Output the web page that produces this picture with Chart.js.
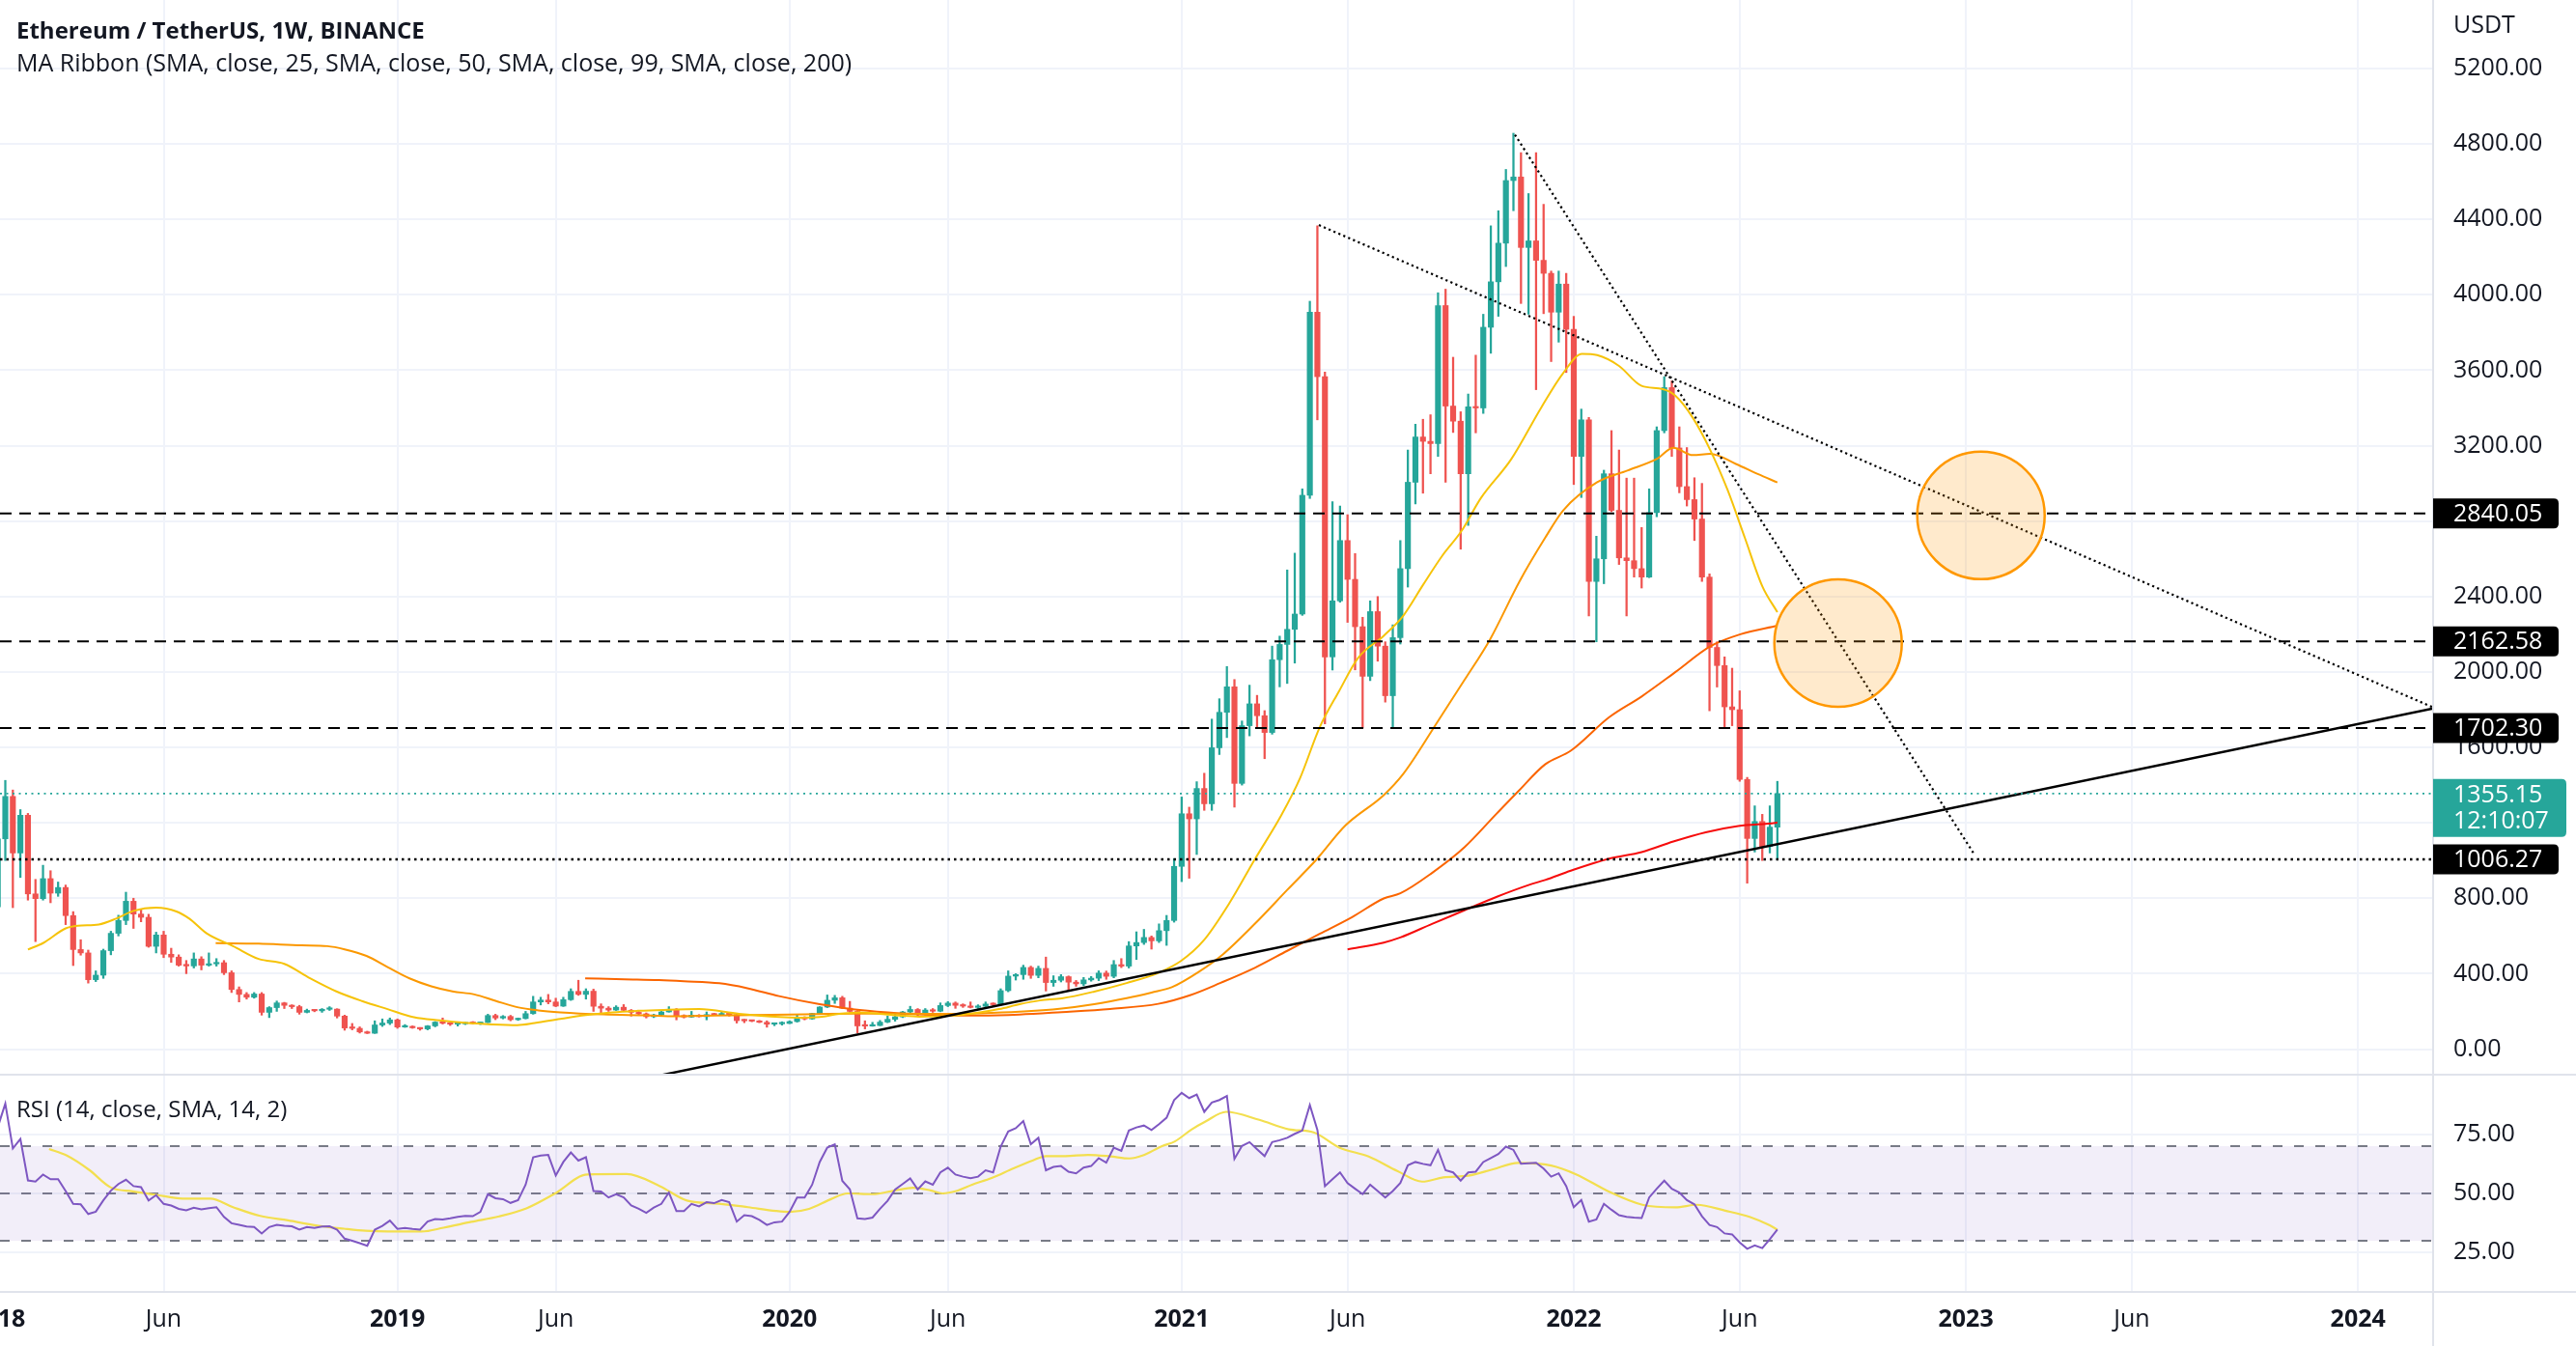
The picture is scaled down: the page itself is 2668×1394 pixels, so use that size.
<!DOCTYPE html>
<html><head><meta charset="utf-8">
<script src="https://cdn.jsdelivr.net/npm/chart.js@4.4.1/dist/chart.umd.min.js"></script>
<style>
html,body{margin:0;padding:0;background:#fff;width:2668px;height:1394px;overflow:hidden}
canvas{position:absolute;left:0}
#main{top:0}
#rsi{top:1114px}
</style></head><body>
<canvas id="main" width="2668" height="1114"></canvas>
<canvas id="rsi" width="2668" height="280"></canvas>
<script>
// ---------- DATA ----------
const titleText = 'Ethereum / TetherUS, 1W, BINANCE';
const ribbonText = 'MA Ribbon (SMA, close, 25, SMA, close, 50, SMA, close, 99, SMA, close, 200)';
const rsiText = 'RSI (14, close, SMA, 14, 2)';
const axisUnit = 'USDT';
const firstWeek = '2018-01-01'; // weekly candles, one per Monday

const candleOpen = [
755,1115,1340,1040,1240,823,798,904,827,857,
708,528,510,368,392,522,614,682,784,716,
699,545,605,503,488,449,441,478,445,452,
458,405,316,290,275,292,195,220,245,232,
225,195,205,203,211,212,175,112,110,91,
84,128,138,155,117,119,113,107,123,143,
137,132,134,138,136,141,178,165,173,156,
162,188,250,260,250,228,262,306,290,307,
227,217,207,222,206,195,187,172,181,197,
211,174,170,180,172,183,181,189,183,151,
150,148,142,132,134,136,146,166,160,189,
223,259,272,217,200,123,122,125,143,158,
171,197,210,188,207,201,231,244,232,228,
221,227,239,236,310,387,395,433,391,428,
353,365,384,355,346,367,376,403,386,448,
440,547,565,592,574,628,682,969,1248,1221,
1382,1301,1598,1786,1921,1409,1715,1831,1768,1679,
2065,2146,2226,2307,2937,3908,3566,2080,2377,2697,
2491,2240,1977,2320,2137,1874,2182,2548,3006,3246,
3223,3211,3943,3410,3330,3051,3406,3400,3828,4069,
4274,4606,4625,4251,4286,4183,4114,3908,4057,3817,
3143,3337,2480,2600,3051,2857,2605,2590,2548,2503,
2845,3280,3508,3188,2983,2914,2811,2503,2130,2034,
1815,1800,1430,1117,1207,1074,1177];
const candleHigh = [
1180,1425,1374,1270,1250,900,975,946,886,870,
729,580,525,415,530,625,710,832,800,740,
715,620,625,535,500,470,510,490,510,480,
470,415,330,300,300,300,225,255,248,235,
232,212,207,215,225,214,180,136,118,95,
150,160,165,160,130,123,114,125,146,165,
140,140,142,146,143,185,185,178,179,165,
200,280,275,290,270,275,320,365,320,318,
240,225,230,236,210,200,192,185,200,225,
215,182,200,183,197,190,197,191,185,158,
152,152,150,135,145,150,180,172,190,225,
287,285,280,253,204,150,142,152,175,188,
200,227,215,215,215,245,252,250,240,250,
235,250,245,320,415,400,445,440,440,488,
389,395,388,364,380,385,415,414,470,480,
570,622,635,600,664,709,1010,1337,1283,1418,
1463,1750,1858,2029,1960,1740,1930,1876,1795,2137,
2190,2541,2630,2971,3966,4366,3590,2903,2880,2834,
2628,2290,2377,2400,2160,2250,2697,3177,3314,3340,
3364,4011,4030,3669,3380,3474,3680,3897,4366,4446,
4665,4857,4754,4537,4754,4480,4126,4126,4114,3886,
3394,3350,2720,3070,3280,3177,3028,3028,2766,2971,
3300,3566,3543,3300,3190,3030,3000,2520,2160,2080,
2020,1900,1441,1290,1245,1290,1420];
const candleLow = [
716,1000,750,910,790,570,790,776,810,660,
443,498,350,358,375,500,600,660,640,675,
540,510,485,460,440,400,430,420,440,440,
395,300,250,265,270,180,167,200,215,215,
185,192,198,195,205,165,100,102,85,82,
83,120,130,110,115,110,100,102,118,133,
125,122,130,133,130,140,156,160,150,152,
160,185,234,240,225,226,258,285,265,200,
190,200,205,200,175,180,165,167,176,196,
155,165,168,170,155,178,180,175,138,140,
145,140,116,124,127,135,143,155,158,185,
220,242,215,195,86,107,121,124,140,148,
167,185,178,182,195,198,225,216,221,218,
215,225,225,232,304,366,370,375,378,308,
333,356,308,333,336,360,363,370,378,432,
430,475,555,530,565,550,673,888,906,1032,
1266,1266,1562,1652,1283,1400,1661,1706,1540,1670,
1921,1939,2047,2300,2920,3337,1725,2010,2370,2263,
2011,1703,1954,2057,1840,1703,2148,2450,2891,2948,
3051,3143,3006,3270,2651,2777,3268,3371,3690,3886,
4150,4446,3954,3897,3497,3900,3646,3749,3588,2994,
2925,2297,2160,2468,2850,2570,2297,2503,2445,2500,
2823,3268,3143,2950,2880,2697,2480,1794,1920,1702,
1715,1420,880,1045,1000,1040,1006.27];
const candleClose = [
1115,1340,1040,1240,823,798,904,827,857,708,
528,510,368,392,522,614,682,784,716,699,
545,605,503,488,445,441,478,445,452,458,
405,316,290,275,292,195,220,245,232,225,
195,205,203,211,212,175,112,110,91,84,
128,138,155,117,119,113,107,123,143,137,
132,134,138,136,141,178,165,173,156,162,
188,250,260,250,228,262,306,290,307,227,
217,207,222,206,195,187,172,181,197,211,
174,170,180,172,183,181,189,183,151,150,
148,142,132,134,136,146,166,160,189,223,
259,272,217,200,123,122,125,143,158,171,
197,210,188,207,201,231,244,232,228,221,
227,239,236,310,387,395,433,391,428,353,
365,384,355,346,367,376,403,386,448,440,
547,565,592,574,628,682,969,1248,1221,1382,
1301,1598,1786,1921,1409,1715,1831,1768,1679,2065,
2146,2226,2307,2937,3908,3566,2080,2377,2697,2491,
2240,1977,2320,2137,1874,2182,2548,3006,3246,3223,
3211,3943,3410,3330,3051,3406,3400,3828,4069,4274,
4606,4625,4251,4286,4183,4114,3908,4057,3817,3143,
3337,2480,2600,3051,2857,2605,2590,2548,2503,2845,
3280,3508,3188,2983,2914,2811,2503,2130,2034,1815,
1800,1430,1117,1207,1074,1177,1355.15];

// MA Ribbon lines (week index, value)
const sma25Weeks = [4,6,9,10.6,13.4,15.7,18,21,23.7,25.4,27.7,31.2,34.6,38,41.4,44.9,48.3,51.7,55.2,58.6,62,65.5,68.9,71.2,74.6,78,81.5,84.9,88.3,93,98.3,103.7,106.3,109,111.6,114.3,116.9,119.6,122.2,124.9,127.6,130.2,132.8,135.5,138.2,141.1,145.4,149.7,153.9,156.9,159.9,163.3,166.7,170.2,172.7,175.3,177.9,180.4,183.8,186.4,189,191.5,194.1,196.7,200.7,204.7,207.6,210.1,212.1,215,218,220.8,222.5,224.8,227.1,229.4,231.7,234,236];
const sma25Values = [528,562,640,654,661,692,733,750,730,692,614,546,478,452,376,306,255,212,169,152,139,131,127,138,160,180,195,203,208,212,187,170,167,170,187,195,187,178,172,174,180,195,212,238,258,269,305,350,404,467,575,772,1006,1239,1437,1706,1900,2075,2192,2299,2461,2613,2747,2923,3128,3403,3585,3687,3680,3623,3517,3500,3464,3347,3177,2965,2710,2455,2317];
const sma50Weeks = [28.9,34.6,40.3,43.7,46,48.9,51.7,54.6,57.5,60.3,63.2,66,68.9,71.7,74.6,80.3,86,89.9,95,100,105,110,115,120,125,130.2,135.5,141.1,145.4,149.7,153,155.7,159.3,162.5,166.7,171,174.9,178.7,183.8,186.4,191,194.5,197.9,201.8,205.2,207.6,212.1,216.1,220.1,222.2,224.8,227.1,230.5,233.4,236];
const sma50Values = [562,559,550,546,529,494,435,375,333,306,290,256,222,205,195,184,179,174,178,180,183,187,188,188,187,190,198,215,238,270,300,328,410,503,664,844,1006,1185,1347,1460,1740,1957,2173,2480,2711,2857,3006,3068,3132,3189,3150,3157,3103,3050,3005];
const sma99Weeks = [77.9,83.1,87.7,91,95.7,99.4,103.6,109,114.3,119.6,124.9,130.2,135.5,141.1,147.5,153.9,158.2,162.1,166.7,171,175.3,179.6,183.8,186,190.2,194.5,198.8,201.7,205.2,208.6,213.7,218,222.5,227.1,231.1,236];
const sma99Values = [375,370,366,360,349,323,281,238,207,190,181,178,183,196,213,240,287,350,431,521,611,700,799,826,934,1070,1250,1370,1510,1582,1760,1870,2000,2136,2200,2245];
const sma200Weeks = [179,183.8,186,190.2,194.5,198.8,203,205.2,208.6,213.7,218,222.2,226.5,230.8,235.7,236];
const sma200Values = [529,565,592,664,736,808,870,897,946,1010,1045,1101,1150,1183,1200,1202];

// RSI (weekly) and its SMA
const rsiValues = [
78,88,69,73,55.5,55,58,56,56,51,
45.6,45.4,41.3,42.3,47.1,51.2,54,55.8,53.1,52.7,
47,49.3,45.6,44.9,43.5,42.9,44,43.3,43.8,44.2,
40.1,37.4,36.7,36,35.8,33.1,35.8,36.7,36.3,36.1,
34.7,35.8,35.4,36,36.1,34.7,30.9,30,29,27.9,
34.7,36.3,38.5,35,35.4,35,34.7,38.1,39.2,39,
39.5,40.1,40.5,40.4,42.2,49.7,48,47.6,46,47.2,
53.7,65.3,66,66.3,57.6,63.3,67.3,63.9,65.3,51,
50.8,48.3,49.7,48.3,44.9,43.5,41.8,44,45.6,50.4,
42.6,42.6,45.6,44.5,46.3,45.9,47.2,46.3,38.1,40.8,
40.4,38.8,36.7,37.8,38.1,42.2,48.3,48.3,53.7,63.3,
69.4,70.8,55.3,51.7,39.5,39.2,39.8,43.5,46.9,51.7,
54,56.4,51.7,55.1,53.7,58.9,60.9,58,57.1,56.4,
57.1,59.8,58.9,69.8,76.2,77.6,80.6,70.8,73.5,59.8,
61.2,61.6,59.2,58.5,60.9,61.6,64.9,63,69.4,68,
76.6,77.9,78.7,76.8,79.3,82,89.5,92.5,90.3,91.8,
84.5,88.4,89.5,91.2,64.6,70.1,71.7,68.7,65.8,71.7,
72.5,73.5,75.2,76.6,87.4,76.9,53.1,56,58.9,54.4,
52,49.7,53.7,51,48.3,51,54.4,61.9,63.3,62.5,
61.9,68.4,59.8,58.9,55.4,58.9,59.2,63.3,65,66.7,
69.8,68.4,62.6,62.8,63,60.5,57.1,58.5,53.1,44.2,
47.2,38.1,39,45.6,43.1,40.8,40.1,39.8,39.6,48.3,
52,55.4,52,50.4,47.2,45.4,40.4,36.7,35.8,33.1,
32.7,29.3,26.6,28,26.9,30.7,34.7];
const rsiMaWeeks = [6.8,9.1,12.1,15,17.9,20.9,24.5,28.2,31.2,34.8,38.5,42.2,45.9,48.8,51.7,56.2,59.1,62.8,66.5,70.1,73.8,78.2,83.4,87.8,91.4,95.9,99.5,103.2,105,107.6,110.5,112.7,116,119,121.4,123.7,125.3,127.1,129.2,131.8,134.7,137.3,139,141.6,144.6,147.5,150.1,151.8,154.4,156.1,158.3,160.1,162.9,167.3,171.2,174.5,177.9,181.8,185.6,188.9,191.7,195,198.3,201.6,206,209.3,213.7,218.1,222.5,225.3,229.1,232.4,235,236];
const rsiMaValues = [68.8,66.1,60,52.5,50.9,49.5,47.8,47.8,44.2,40.5,38.6,36.5,35.1,34.2,33.9,33.9,35.5,38,40.3,43.7,49.8,58,58.2,53.1,47,45.6,44.2,42.6,42.2,43.5,47.6,50,49.7,51.3,52.4,51.3,50,51,53.7,56.5,60.6,64,65.8,65.8,66.3,65.7,64.8,66,70,72,77,80.3,84.5,81.1,77.1,75.8,69.4,65.6,59.5,55,56.8,57.5,60.2,62.9,61.8,58.1,50.7,45.2,44.1,45.2,42.7,40,36.5,34.7];
const rsiBands = [70, 50, 30];

// Axis ticks
const priceTicks = [0,400,800,1200,1600,2000,2400,2800,3200,3600,4000,4400,4800,5200];
const rsiTicks = [25, 50, 75];
const timeTickDates = ['2018-01-01','2018-06-04','2019-01-07','2019-06-03','2020-01-06','2020-06-01','2021-01-04','2021-06-07','2022-01-03','2022-06-06','2023-01-02','2023-06-05','2024-01-01'];
const timeTickLabels = ['2018','Jun','2019','Jun','2020','Jun','2021','Jun','2022','Jun','2023','Jun','2024'];

// Drawings
const levelLines = [2840.05, 2162.58, 1702.30];
const lowLevel = 1006.27;
const lastPrice = 1355.15;
const countdown = '12:10:07';
const trendAWeeks = [175.2, 322.96], trendAValues = [4370, 1812];
const trendBWeeks = [201.2, 262], trendBValues = [4849, 1040];
const supportWeeks = [87.4, 322.96], supportValues = [-143, 1807];
const circleWeeks = [263.0, 244.05], circleValues = [2830, 2153];

// View range
const xMin = 0.296, xMax = 322.96;
const yMin = -140.8, yMax = 5563.5;
const rsiMin = 8.37, rsiMax = 99.8;

// ---------- STYLE ----------
const UP = '#26a69a', DOWN = '#ef5350';
const FONT = '"Open Sans", "Noto Sans", sans-serif';
const TEXT = '#131722';
const GRID = '#f0f3fa';
const FRAME = '#e0e3eb';
Chart.defaults.font.family = FONT;

const WEEK_MS = 7 * 86400000;
const weekOf = d => (Date.parse(d) - Date.parse(firstWeek)) / WEEK_MS;
const timeTickWeeks = timeTickDates.map(weekOf);
const pts = (ws, vs) => ws.map((w, i) => ({x: w, y: vs[i]}));
const hLine = v => [{x: xMin, y: v}, {x: xMax, y: v}];
const idx = candleClose.map((_, i) => i);
const candleColor = idx.map(i => candleClose[i] >= candleOpen[i] ? UP : DOWN);

function lineDs(data, color, width, extra) {
  return Object.assign({type: 'line', data, borderColor: color, borderWidth: width, pointRadius: 0, fill: false, tension: 0}, extra || {});
}
function boxPath(ctx, x, y, w, h, r) {
  ctx.beginPath();
  ctx.moveTo(x, y); ctx.lineTo(x + w - r, y); ctx.quadraticCurveTo(x + w, y, x + w, y + r);
  ctx.lineTo(x + w, y + h - r); ctx.quadraticCurveTo(x + w, y + h, x + w - r, y + h);
  ctx.lineTo(x, y + h); ctx.closePath();
}
const xScaleCfg = (h) => ({
  type: 'linear', min: xMin, max: xMax, offset: false,
  afterBuildTicks: s => { s.ticks = timeTickWeeks.map(v => ({value: v})); },
  afterFit: s => { s.height = h; s.paddingLeft = 0; s.paddingRight = 0; },
  ticks: {display: false},
  grid: {color: GRID, lineWidth: 2, drawTicks: false, offset: false},
  border: {display: false}
});
const yScaleCfg = (min, max, ticks) => ({
  position: 'right', min, max,
  afterBuildTicks: s => { s.ticks = ticks.map(v => ({value: v})); },
  afterFit: s => { s.width = 148; s.paddingTop = 0; s.paddingBottom = 0; },
  ticks: {callback: v => Number(v).toFixed(2), color: TEXT, font: {size: 25, family: FONT}, padding: 21},
  grid: {color: GRID, lineWidth: 2, drawTicks: false},
  border: {display: false}
});

// ---------- MAIN PANE ----------
const mainOverlay = {
  id: 'mainOverlay',
  afterDraw(chart) {
    const {ctx, chartArea: ca, scales: {y}} = chart;
    ctx.save();
    ctx.fillStyle = FRAME;
    ctx.fillRect(ca.right - 1, 0, 2, chart.height);
    ctx.fillRect(0, chart.height - 2, chart.width, 2);
    ctx.fillStyle = TEXT; ctx.textBaseline = 'middle'; ctx.textAlign = 'left';
    ctx.font = '700 24px ' + FONT; ctx.fillText(titleText, 17, 33);
    ctx.font = '400 25px ' + FONT; ctx.fillText(ribbonText, 17, 67);
    ctx.font = '400 25px ' + FONT; ctx.fillText(axisUnit, ca.right + 21, 27);
    const lx = ca.right;
    [...levelLines, lowLevel].forEach(v => {
      const py = y.getPixelForValue(v);
      boxPath(ctx, lx, py - 15.5, 130, 31, 5); ctx.fillStyle = '#000'; ctx.fill();
      ctx.fillStyle = '#fff'; ctx.font = '400 25px ' + FONT;
      ctx.fillText(v.toFixed(2), lx + 21, py + 1);
    });
    const pp = y.getPixelForValue(lastPrice);
    boxPath(ctx, lx, pp - 15, 138, 60, 5); ctx.fillStyle = UP; ctx.fill();
    ctx.fillStyle = '#fff';
    ctx.fillText(lastPrice.toFixed(2), lx + 21, pp + 2);
    ctx.fillText(countdown, lx + 21, pp + 29);
    ctx.restore();
  }
};

new Chart(document.getElementById('main'), {
  type: 'bar',
  data: {datasets: [
    {type: 'bar', data: idx.map(i => ({x: i, y: [candleLow[i], candleHigh[i]]})), backgroundColor: candleColor, barThickness: 1.6, grouped: false, borderWidth: 0, order: 20},
    {type: 'bar', data: idx.map(i => ({x: i, y: [candleOpen[i], candleClose[i]]})), backgroundColor: candleColor, barThickness: 5.5, grouped: false, borderWidth: 0, minBarLength: 1.5, order: 19},
    lineDs(pts(sma25Weeks, sma25Values), '#f6c309', 2, {cubicInterpolationMode: 'monotone', order: 10}),
    lineDs(pts(sma50Weeks, sma50Values), '#fb9800', 2, {cubicInterpolationMode: 'monotone', order: 10}),
    lineDs(pts(sma99Weeks, sma99Values), '#fb6500', 2, {cubicInterpolationMode: 'monotone', order: 10}),
    lineDs(pts(sma200Weeks, sma200Values), '#f60c0c', 2, {cubicInterpolationMode: 'monotone', order: 10}),
    ...levelLines.map(v => lineDs(hLine(v), '#000', 2, {borderDash: [12, 8], order: 3})),
    lineDs(hLine(lowLevel), '#000', 2.5, {borderDash: [2.5, 4], order: 3}),
    lineDs(hLine(lastPrice), UP, 1.6, {borderDash: [2, 4.5], order: 3}),
    lineDs(pts(trendAWeeks, trendAValues), '#000', 2.2, {borderDash: [2.2, 3.3], order: 3}),
    lineDs(pts(trendBWeeks, trendBValues), '#000', 2.2, {borderDash: [2.2, 3.3], order: 3}),
    lineDs(pts(supportWeeks, supportValues), '#000', 2.5, {order: 3}),
    {type: 'line', showLine: false, data: pts(circleWeeks, circleValues), pointRadius: 66, pointBackgroundColor: 'rgba(255,152,0,0.2)', pointBorderColor: 'rgba(255,152,0,1)', pointBorderWidth: 2.5, order: 1}
  ]},
  options: {
    responsive: false, animation: false, devicePixelRatio: 1, events: [],
    layout: {padding: 0, autoPadding: false},
    plugins: {legend: {display: false}, tooltip: {enabled: false}},
    scales: {x: xScaleCfg(0), y: yScaleCfg(yMin, yMax, priceTicks)}
  },
  plugins: [mainOverlay]
});

// ---------- RSI PANE ----------
const rsiOverlay = {
  id: 'rsiOverlay',
  afterDraw(chart) {
    const {ctx, chartArea: ca, scales: {x}} = chart;
    ctx.save();
    ctx.fillStyle = FRAME;
    ctx.fillRect(ca.right - 1, 0, 2, chart.height);
    ctx.fillRect(0, ca.bottom - 1, chart.width, 2);
    ctx.fillStyle = TEXT; ctx.textBaseline = 'middle'; ctx.textAlign = 'left';
    ctx.font = '400 24px ' + FONT; ctx.fillText(rsiText, 17, 36);
    ctx.textAlign = 'center';
    timeTickWeeks.forEach((w, i) => {
      const lab = timeTickLabels[i];
      ctx.font = (/^\d{4}$/.test(lab) ? '700 ' : '400 ') + '25px ' + FONT;
      ctx.fillText(lab, x.getPixelForValue(w), ca.bottom + 29);
    });
    ctx.restore();
  }
};

new Chart(document.getElementById('rsi'), {
  type: 'line',
  data: {datasets: [
    lineDs(hLine(rsiBands[0]), '#787b86', 2, {borderDash: [10, 12], order: 5}),
    lineDs(hLine(rsiBands[2]), '#787b86', 2, {borderDash: [10, 12], fill: '-1', backgroundColor: 'rgba(126,87,194,0.1)', order: 5}),
    lineDs(hLine(rsiBands[1]), '#787b86', 2, {borderDash: [10, 12], order: 5}),
    lineDs(pts(rsiMaWeeks, rsiMaValues), '#f3df4f', 2.2, {cubicInterpolationMode: 'monotone', order: 2}),
    lineDs(rsiValues.map((v, i) => ({x: i, y: v})), '#7e57c2', 2, {order: 1})
  ]},
  options: {
    responsive: false, animation: false, devicePixelRatio: 1, events: [],
    layout: {padding: 0, autoPadding: false},
    plugins: {legend: {display: false}, tooltip: {enabled: false}},
    scales: {x: xScaleCfg(56), y: yScaleCfg(rsiMin, rsiMax, rsiTicks)}
  },
  plugins: [rsiOverlay]
});
</script></body></html>
